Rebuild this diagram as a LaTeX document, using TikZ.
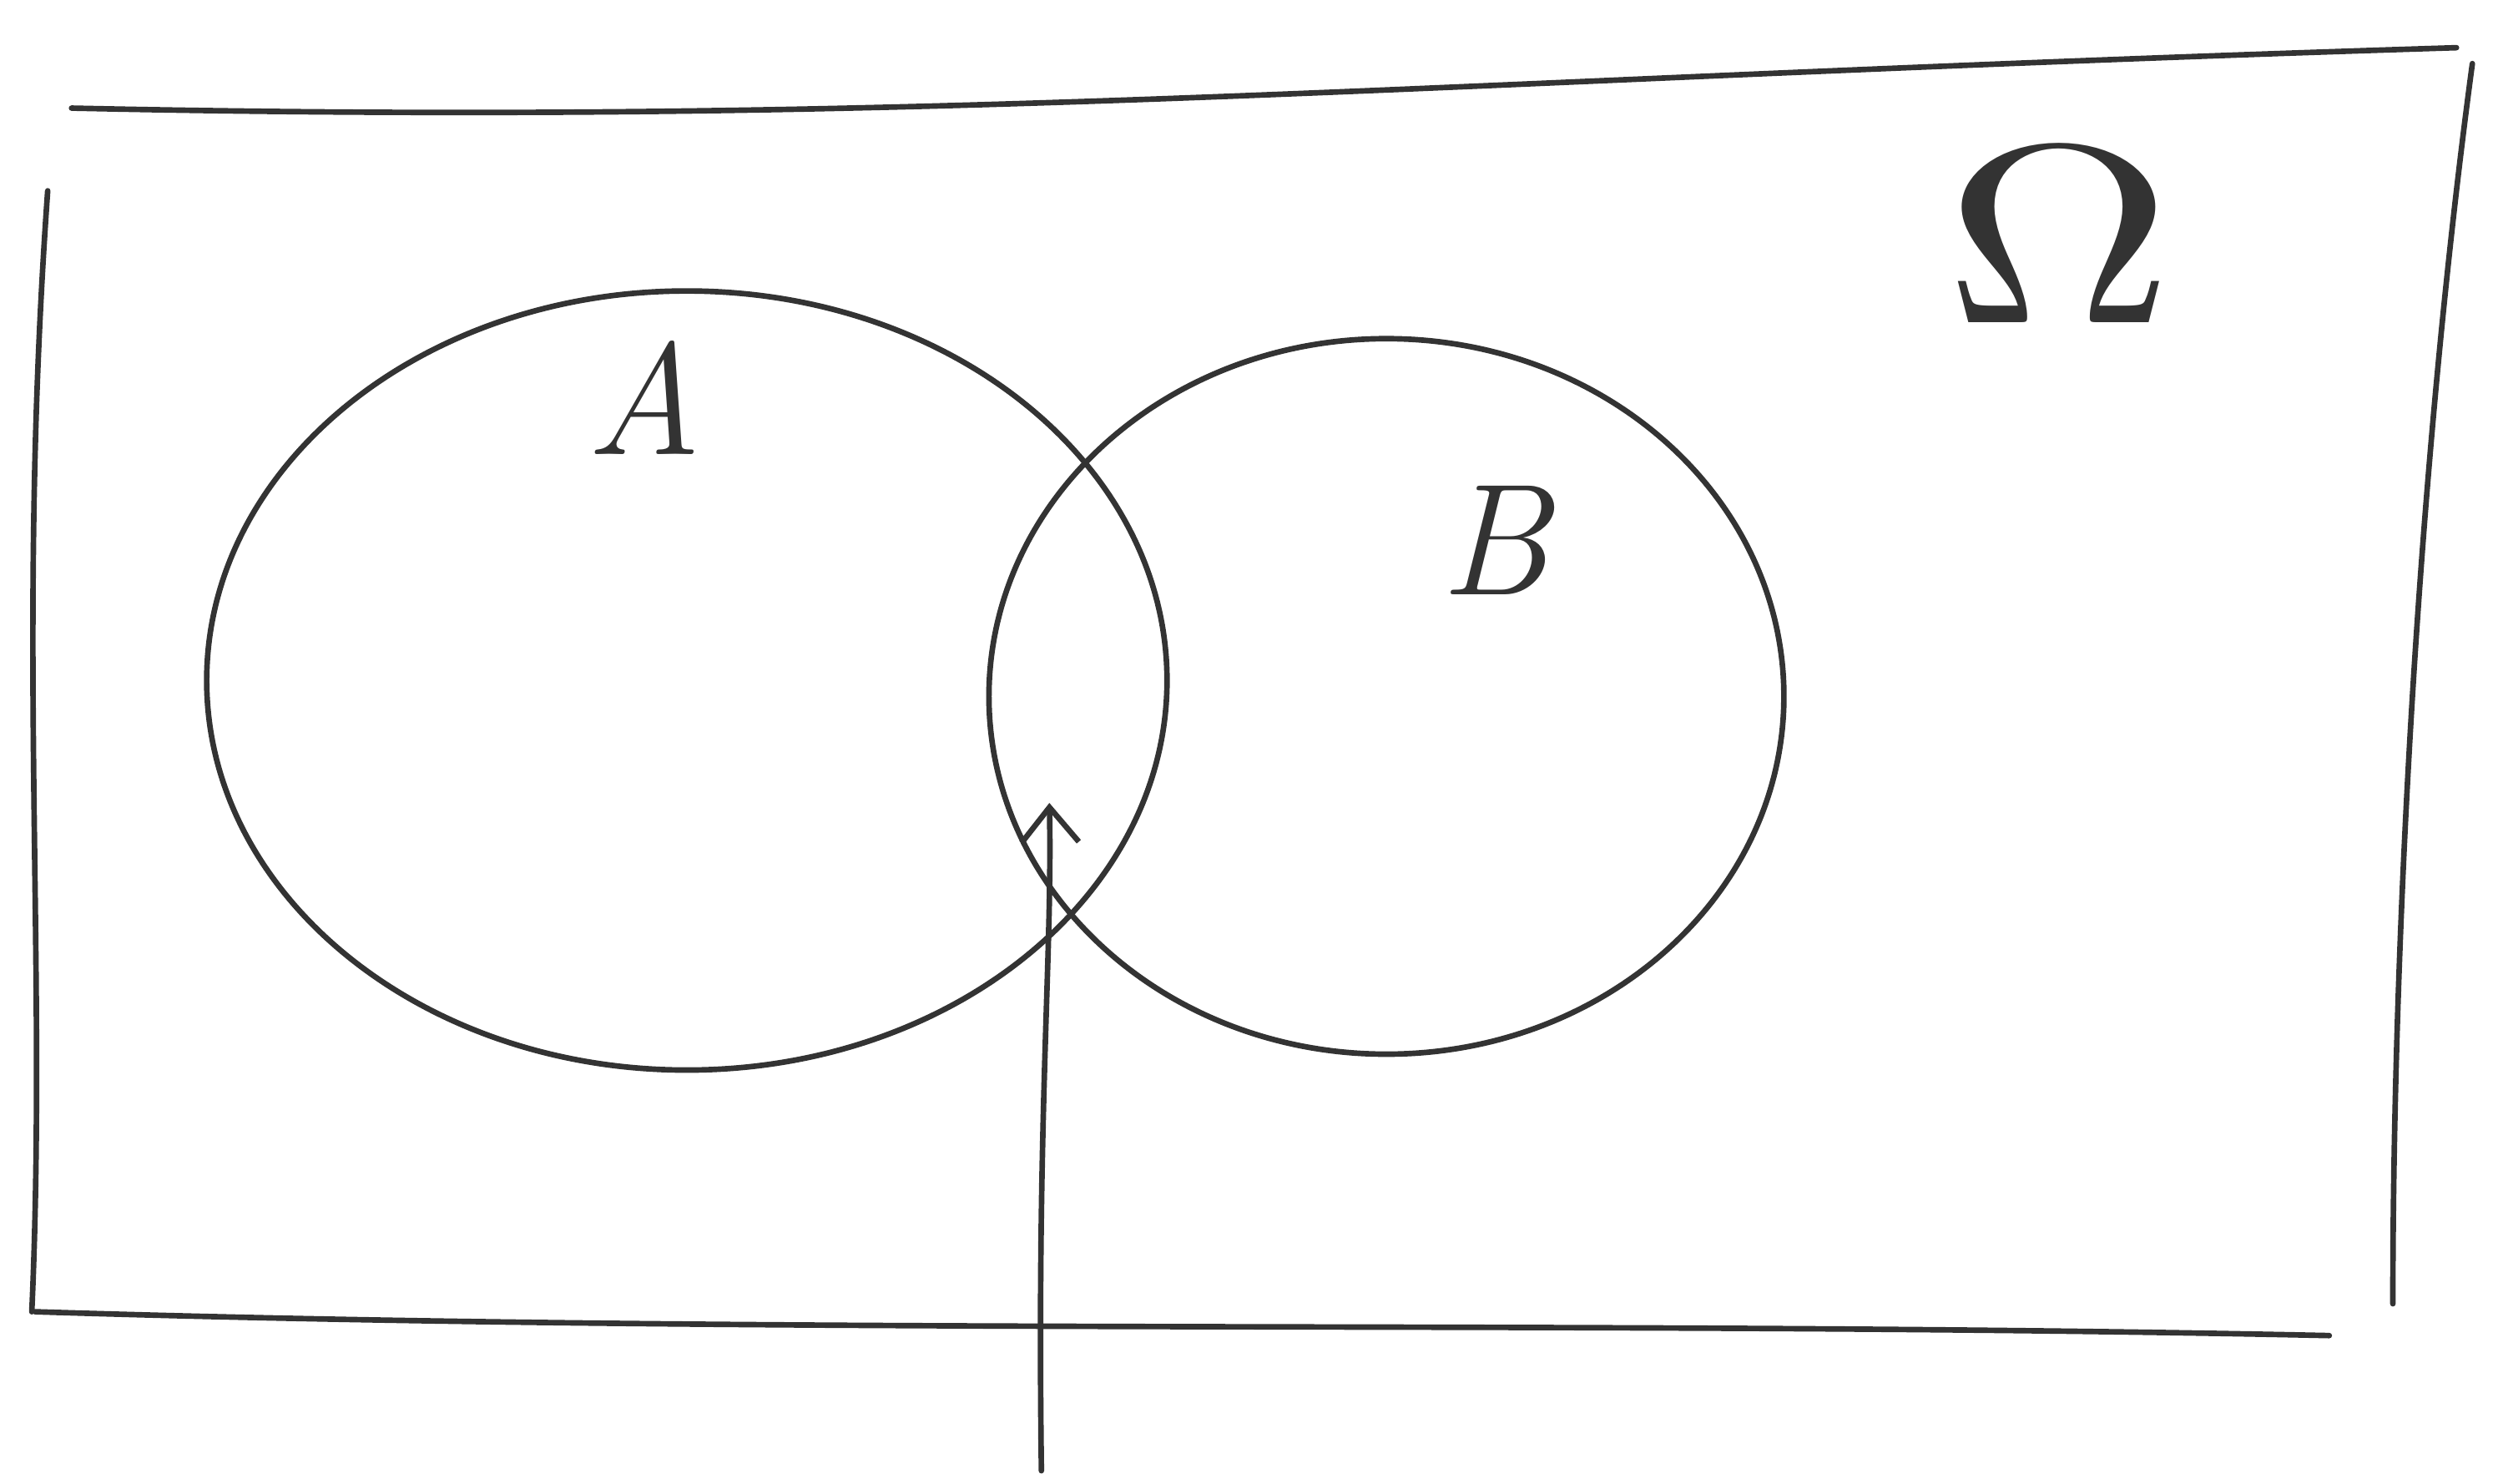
\documentclass[tikz,border=0pt]{standalone}
\usetikzlibrary{arrows.meta,shapes.geometric}
\begin{document}
\begin{tikzpicture}[x=1pt,y=-1pt,
  ink/.style={draw=black!80,line width=3.5pt,line cap=round,line join=round},
  setshape/.style={ink,ellipse,inner sep=0pt},
  lbl/.style={text=black!80,font=\fontsize{100}{100}\selectfont\itshape}]
\useasboundingbox (0,0) rectangle (1568,933);
% universe frame
\coordinate (tl) at (45,68);
\coordinate (tr) at (1545,30);
\coordinate (rt) at (1555,40);
\coordinate (rb) at (1505,820);
\coordinate (bl) at (22,825);
\coordinate (br) at (1465,840);
\coordinate (lt) at (30,120);
\coordinate (lb) at (20,825);
\draw[ink] (tl) .. controls (600,80) and (900,50) .. (tr);
\draw[ink] (rt) .. controls (1520,300) and (1505,600) .. (rb);
\draw[ink] (bl) .. controls (500,840) and (1000,830) .. (br);
\draw[ink] (lt) .. controls (10,400) and (30,600) .. (lb);
% sets
\node[setshape,minimum width=604pt,minimum height=490pt] (A) at (432,428) {};
\node[setshape,minimum width=500pt,minimum height=450pt] (B) at (872,438) {};
\node[lbl] (la) at (405,250) {A};
\node[lbl] (lbB) at (940,340) {B};
\node[text=black!80,inner sep=0pt] (om) at (1295,148) {\scalebox{20}[16]{$\Omega$}};
% arrow to intersection
\coordinate (tail) at (655,925);
\coordinate (tip) at (660,505);
\draw[ink,-{Straight Barb[length=22pt,width=36pt,line width=3.5pt]}] (tail) .. controls (652,700) and (662,600) .. (tip);
\end{tikzpicture}
\end{document}
